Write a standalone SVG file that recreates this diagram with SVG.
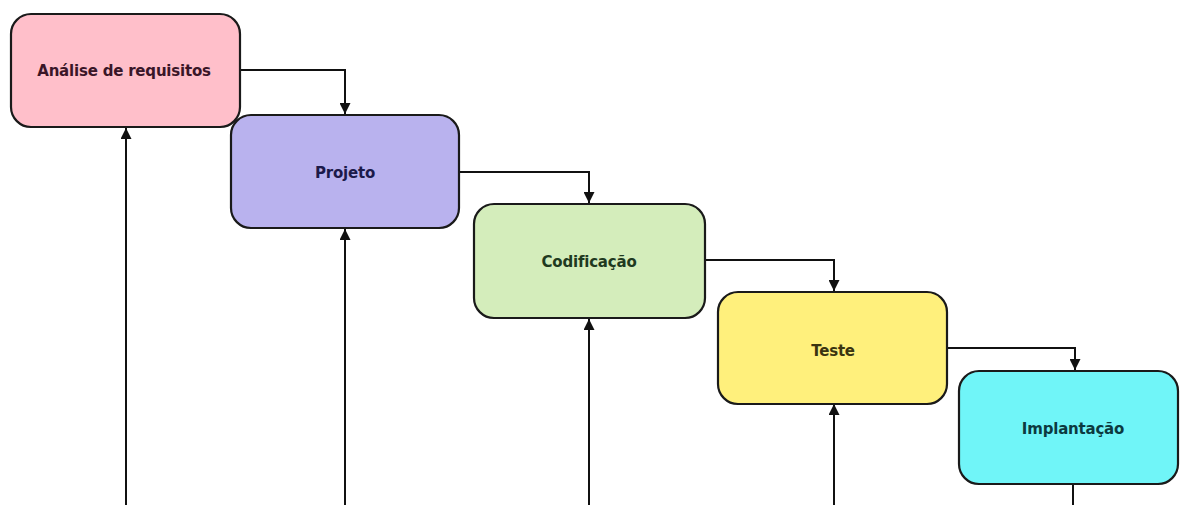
<svg xmlns="http://www.w3.org/2000/svg" width="1180" height="505" viewBox="0 0 1180 505">
<style>
.box{stroke:#1a1a1a;stroke-width:2.2}
.lbl{font-family:"DejaVu Sans",Verdana,sans-serif;font-weight:bold;font-size:15px;text-anchor:middle;letter-spacing:-0.2px}
.cn{fill:none;stroke:#111;stroke-width:2}
</style>
<defs>
<marker id="ah" viewBox="0 0 10 10" refX="10" refY="5" markerWidth="11" markerHeight="11" markerUnits="userSpaceOnUse" orient="auto">
<path d="M0,0 L10,5 L0,10 z" fill="#111"/>
</marker>
</defs>
<rect width="1180" height="505" fill="#fff"/>
<g id="connectors">
<path class="cn" d="M240,70 H345 V114" marker-end="url(#ah)"/>
<path class="cn" d="M459,172 H589 V203" marker-end="url(#ah)"/>
<path class="cn" d="M705,260 H834 V291" marker-end="url(#ah)"/>
<path class="cn" d="M947,348 H1075 V370" marker-end="url(#ah)"/>
<path class="cn" d="M126,505 V128" marker-end="url(#ah)"/>
<path class="cn" d="M345,505 V229" marker-end="url(#ah)"/>
<path class="cn" d="M589,505 V319" marker-end="url(#ah)"/>
<path class="cn" d="M834,505 V404" marker-end="url(#ah)"/>
<path class="cn" d="M1073,484 V505"/>
</g>
<g id="analise">
<rect class="box" x="11" y="14" width="229" height="113" rx="20" fill="#ffbfca"/>
<text class="lbl" x="124" y="76" fill="#3a1628">Análise de requisitos</text>
</g>
<g id="projeto">
<rect class="box" x="231" y="115" width="228" height="113" rx="20" fill="#b9b2ee"/>
<text class="lbl" x="345" y="178" fill="#1c1a4a">Projeto</text>
</g>
<g id="codificacao">
<rect class="box" x="474" y="204" width="231" height="114" rx="20" fill="#d4edbb"/>
<text class="lbl" x="589" y="267" fill="#1f3a1f">Codificação</text>
</g>
<g id="teste">
<rect class="box" x="718" y="292" width="229" height="112" rx="20" fill="#fff07c"/>
<text class="lbl" x="833" y="356" fill="#3a3410">Teste</text>
</g>
<g id="implantacao">
<rect class="box" x="959" y="371" width="219" height="113" rx="20" fill="#70f5f8"/>
<text class="lbl" x="1073" y="434" fill="#0c3a40">Implantação</text>
</g>
</svg>
